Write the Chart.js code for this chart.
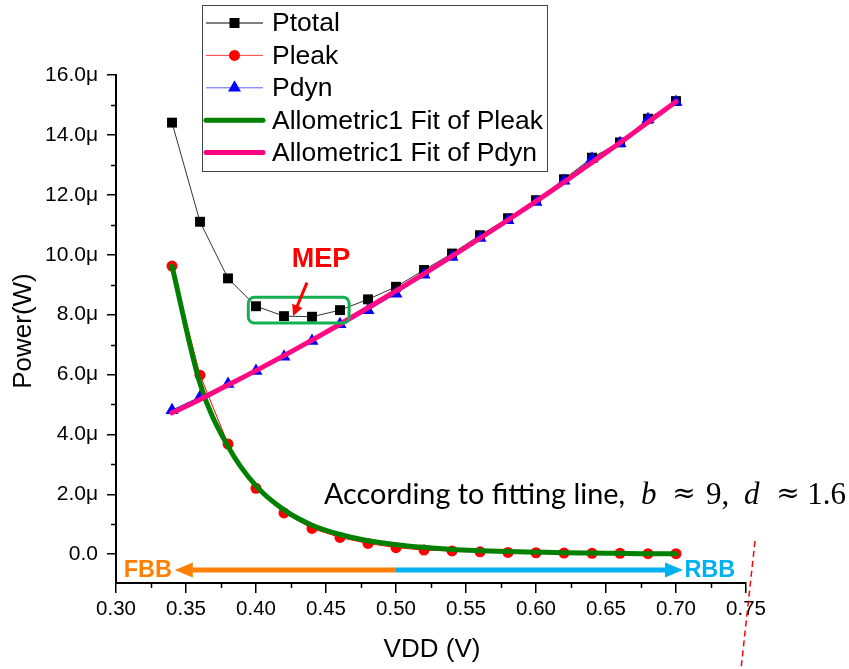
<!DOCTYPE html>
<html>
<head>
<meta charset="utf-8">
<script src="https://cdn.jsdelivr.net/npm/chart.js@4/dist/chart.umd.min.js"></script>
<style>
  html, body { margin: 0; padding: 0; background: #fff; }
  #wrap { width: 849px; height: 669px; }
</style>
</head>
<body>
<div id="wrap"><canvas id="c" width="849" height="669"></canvas></div>
<script>
// ---- Data (units of µW) ----
const vdd = [0.34, 0.36, 0.38, 0.40, 0.42, 0.44, 0.46, 0.48, 0.50, 0.52,
             0.54, 0.56, 0.58, 0.60, 0.62, 0.64, 0.66, 0.68, 0.70];
const pTotal = [14.41, 11.10, 9.21, 8.28, 7.95, 7.93, 8.15, 8.51, 8.93, 9.49,
                10.04, 10.65, 11.22, 11.82, 12.52, 13.24, 13.75, 14.54, 15.13];
const pLeak = [9.62, 5.98, 3.68, 2.20, 1.38, 0.86, 0.56, 0.36, 0.22, 0.14,
               0.11, 0.08, 0.06, 0.05, 0.04, 0.03, 0.03, 0.02, 0.02];
const pDyn = [4.81, 5.25, 5.68, 6.12, 6.59, 7.12, 7.68, 8.15, 8.70, 9.33,
              9.92, 10.56, 11.15, 11.76, 12.47, 13.20, 13.72, 14.52, 15.10];
const fitLeak = [9.62, 5.70, 3.60, 2.28, 1.48, 0.97, 0.66, 0.45, 0.32, 0.23,
                 0.16, 0.12, 0.09, 0.07, 0.05, 0.04, 0.03, 0.02, 0.02];
const fitDyn = [4.72, 5.17, 5.65, 6.13, 6.63, 7.15, 7.68, 8.23, 8.79, 9.36,
                9.95, 10.55, 11.16, 11.78, 12.42, 13.08, 13.74, 14.42, 15.11];

const xTickLabels = ["0.30", "0.35", "0.40", "0.45", "0.50", "0.55", "0.60", "0.65", "0.70", "0.75"];
const yTickLabels = ["0.0", "2.0μ", "4.0μ", "6.0μ", "8.0μ", "10.0μ", "12.0μ", "14.0μ", "16.0μ"];
const seriesNames = ["Ptotal", "Pleak", "Pdyn", "Allometric1 Fit of Pleak", "Allometric1 Fit of Pdyn"];

const FONT = "'Liberation Sans', Arial, sans-serif";
const pts = ys => ys.map((y, i) => ({x: vdd[i], y}));

// ---- Drawing helpers ----
function hArrow(ctx, x1, x2, y, color) {
  const dir = Math.sign(x2 - x1), head = 18, half = 7.5;
  ctx.save();
  ctx.strokeStyle = color; ctx.fillStyle = color; ctx.lineWidth = 5;
  ctx.beginPath(); ctx.moveTo(x1, y); ctx.lineTo(x2 - dir * head, y); ctx.stroke();
  ctx.beginPath();
  ctx.moveTo(x2, y);
  ctx.lineTo(x2 - dir * head, y - half);
  ctx.lineTo(x2 - dir * head, y + half);
  ctx.closePath(); ctx.fill();
  ctx.restore();
}

function marker(ctx, style, x, y, color) {
  ctx.fillStyle = color;
  ctx.beginPath();
  if (style === "rect") ctx.rect(x - 5, y - 5, 10, 10);
  else if (style === "circle") ctx.arc(x, y, 5.5, 0, Math.PI * 2);
  else { ctx.moveTo(x, y - 7.5); ctx.lineTo(x + 6.5, y + 3.8); ctx.lineTo(x - 6.5, y + 3.8); ctx.closePath(); }
  ctx.fill();
}

const overlay = {
  id: "overlay",
  afterDatasetsDraw(chart) {
    const {ctx, scales: {x, y}} = chart;
    ctx.save();
    // MEP box
    const rx = x.getPixelForValue(0.3945), rw = x.getPixelForValue(0.4665) - rx;
    const ry = y.getPixelForValue(8.58), rh = y.getPixelForValue(7.72) - ry;
    ctx.strokeStyle = "#12b050"; ctx.lineWidth = 3;
    ctx.beginPath(); ctx.roundRect(rx, ry, rw, rh, 6); ctx.stroke();
    // MEP label + arrow
    ctx.fillStyle = "#ff0000";
    ctx.font = "bold 27px " + FONT;
    ctx.textAlign = "center"; ctx.textBaseline = "middle";
    ctx.fillText("MEP", x.getPixelForValue(0.4465), y.getPixelForValue(9.83));
    const ax1 = x.getPixelForValue(0.4364), ay1 = y.getPixelForValue(9.07);
    const ax2 = x.getPixelForValue(0.4265), ay2 = y.getPixelForValue(7.95);
    const ang = Math.atan2(ay2 - ay1, ax2 - ax1);
    ctx.strokeStyle = "#ff0000"; ctx.lineWidth = 3;
    ctx.beginPath(); ctx.moveTo(ax1, ay1);
    ctx.lineTo(ax2 - 10 * Math.cos(ang), ay2 - 10 * Math.sin(ang)); ctx.stroke();
    ctx.beginPath();
    ctx.moveTo(ax2, ay2);
    ctx.lineTo(ax2 - 11 * Math.cos(ang) + 5.5 * Math.sin(ang), ay2 - 11 * Math.sin(ang) - 5.5 * Math.cos(ang));
    ctx.lineTo(ax2 - 11 * Math.cos(ang) - 5.5 * Math.sin(ang), ay2 - 11 * Math.sin(ang) + 5.5 * Math.cos(ang));
    ctx.closePath(); ctx.fill();
    // FBB / RBB arrows
    const ay = y.getPixelForValue(-0.53);
    const mid = x.getPixelForValue(0.50);
    hArrow(ctx, mid, x.getPixelForValue(0.3420), ay, "#ff8000");
    hArrow(ctx, mid, x.getPixelForValue(0.7050), ay, "#00b0f0");
    ctx.font = "bold 23.5px " + FONT;
    ctx.textBaseline = "middle";
    ctx.fillStyle = "#ff8000"; ctx.textAlign = "right";
    ctx.fillText("FBB", x.getPixelForValue(0.3400), ay);
    ctx.fillStyle = "#00b0f0"; ctx.textAlign = "left";
    ctx.fillText("RBB", x.getPixelForValue(0.7060), ay);
    ctx.restore();
  },
  afterDraw(chart) {
    const {ctx, scales: {x, y}, chartArea: a} = chart;
    ctx.save();
    // minor ticks
    ctx.strokeStyle = "#000"; ctx.lineWidth = 1.5;
    ctx.beginPath();
    for (let v = 0.325; v < 0.75; v += 0.05) {
      const px = Math.round(x.getPixelForValue(v)) + 0.5;
      ctx.moveTo(px, a.bottom); ctx.lineTo(px, a.bottom + 5);
    }
    for (let v = 1; v < 16; v += 2) {
      const py = Math.round(y.getPixelForValue(v)) + 0.5;
      ctx.moveTo(a.left, py); ctx.lineTo(a.left - 5, py);
    }
    ctx.stroke();

    // axis titles
    ctx.fillStyle = "#000";
    ctx.font = "26px " + FONT;
    ctx.textAlign = "center"; ctx.textBaseline = "middle";
    ctx.fillText("VDD (V)", (a.left + a.right) / 2 + 1, 650);
    ctx.save();
    ctx.translate(24, 331); ctx.rotate(-Math.PI / 2);
    ctx.fillText("Power(W)", 0, 0);
    ctx.restore();

    // fitting note
    ctx.textAlign = "left"; ctx.textBaseline = "alphabetic";
    const note = "According to fitting line,";
    ctx.font = "24px Lato, 'Open Sans', sans-serif";
    const nw = ctx.measureText(note).width;
    ctx.font = (24 * 301 / nw).toFixed(1) + "px Lato, 'Open Sans', sans-serif";
    ctx.fillText(note, 324, 504);
    const serif = "'Liberation Serif', 'DejaVu Serif', serif";
    ctx.font = "italic 31px " + serif;
    ctx.fillText("b", 641, 504);
    ctx.fillText("d", 744, 504);
    ctx.font = "31px " + serif;
    ctx.fillText("9,", 706, 504);
    ctx.textAlign = "right";
    ctx.fillText("1.6", 846, 504);
    ctx.font = "28px 'DejaVu Serif', serif";
    ctx.textAlign = "center";
    ctx.fillText("≈", 684, 502);
    ctx.fillText("≈", 788, 502);

    // red dashed guide
    ctx.strokeStyle = "#ff0000"; ctx.lineWidth = 1.5; ctx.setLineDash([6, 4]);
    ctx.beginPath(); ctx.moveTo(755, 541); ctx.lineTo(741, 669); ctx.stroke();
    ctx.setLineDash([]);

    // legend
    const lx = 202.5, ly = 5.5, lw = 345, lh = 166;
    ctx.fillStyle = "#fff"; ctx.fillRect(lx, ly, lw, lh);
    ctx.strokeStyle = "#444"; ctx.lineWidth = 1; ctx.strokeRect(lx, ly, lw, lh);
    const rows = [
      {c: "#000", w: 1, m: "rect", mc: "#000"},
      {c: "#ff4040", w: 1, m: "circle", mc: "#ff0000"},
      {c: "#6060ff", w: 1, m: "triangle", mc: "#0000ff"},
      {c: "#008000", w: 5, m: null},
      {c: "#ff0080", w: 5, m: null}
    ];
    ctx.font = "26.5px " + FONT;
    ctx.textAlign = "left";
    ctx.textBaseline = "middle";
    rows.forEach((r, i) => {
      const cy = 23 + i * 32.4;
      ctx.strokeStyle = r.c; ctx.lineWidth = r.w; ctx.lineCap = r.w > 1 ? "round" : "butt";
      ctx.beginPath(); ctx.moveTo(206, cy); ctx.lineTo(263, cy); ctx.stroke();
      if (r.m) marker(ctx, r.m, 234.5, cy, r.mc);
      ctx.fillStyle = "#000";
      ctx.fillText(seriesNames[i], 272, cy + 1);
    });
    ctx.restore();
  }
};

new Chart(document.getElementById("c"), {
  type: "line",
  data: {
    datasets: [
      {label: seriesNames[0], data: pts(pTotal), order: 5, borderColor: "#333", borderWidth: 1,
       pointStyle: "rect", pointRadius: 7, backgroundColor: "#000", pointBorderColor: "#000", pointBorderWidth: 0},
      {label: seriesNames[1], data: pts(pLeak), order: 4, borderColor: "#ff0000", borderWidth: 1,
       pointStyle: "circle", pointRadius: 5.5, backgroundColor: "#ff0000", pointBorderColor: "#ff0000", pointBorderWidth: 0},
      {label: seriesNames[2], data: pts(pDyn), order: 3, borderColor: "#0000ff", borderWidth: 1,
       pointStyle: "triangle", pointRadius: 7.5, backgroundColor: "#0000ff", pointBorderColor: "#0000ff", pointBorderWidth: 0},
      {label: seriesNames[3], data: pts(fitLeak), order: 2, borderColor: "#008000", borderWidth: 5,
       pointRadius: 0, cubicInterpolationMode: "monotone", borderCapStyle: "round"},
      {label: seriesNames[4], data: pts(fitDyn), order: 1, borderColor: "#ff0a84", borderWidth: 5,
       pointRadius: 0, cubicInterpolationMode: "monotone", borderCapStyle: "round"}
    ]
  },
  options: {
    responsive: false,
    animation: false,
    devicePixelRatio: 1,
    layout: {padding: {left: 0, right: 103, top: 75, bottom: 0}},
    plugins: {legend: {display: false}, tooltip: {enabled: false}},
    elements: {line: {fill: false}},
    datasets: {line: {clip: false}},
    scales: {
      x: {
        type: "linear", min: 0.3, max: 0.75,
        ticks: {stepSize: 0.05, color: "#000", font: {family: FONT, size: 20.5}, padding: 4,
                callback: v => xTickLabels[Math.round((v - 0.3) / 0.05)]},
        grid: {drawOnChartArea: false, drawTicks: true, tickLength: 10, color: "#000", lineWidth: 1.5},
        border: {display: true, color: "#000", width: 2},
        afterFit: s => { s.height = 86; }
      },
      y: {
        type: "linear", min: -0.96, max: 16,
        ticks: {stepSize: 2, color: "#000", font: {family: FONT, size: 21}, padding: 9,
                callback: v => yTickLabels[Math.round(v / 2)]},
        grid: {drawOnChartArea: false, drawTicks: true, tickLength: 9, color: "#000", lineWidth: 1.5},
        border: {display: true, color: "#000", width: 2},
        afterBuildTicks: s => { s.ticks = s.ticks.filter(t => t.value >= 0); },
        afterFit: s => { s.width = 116; }
      }
    }
  },
  plugins: [overlay]
});
</script>
</body>
</html>
